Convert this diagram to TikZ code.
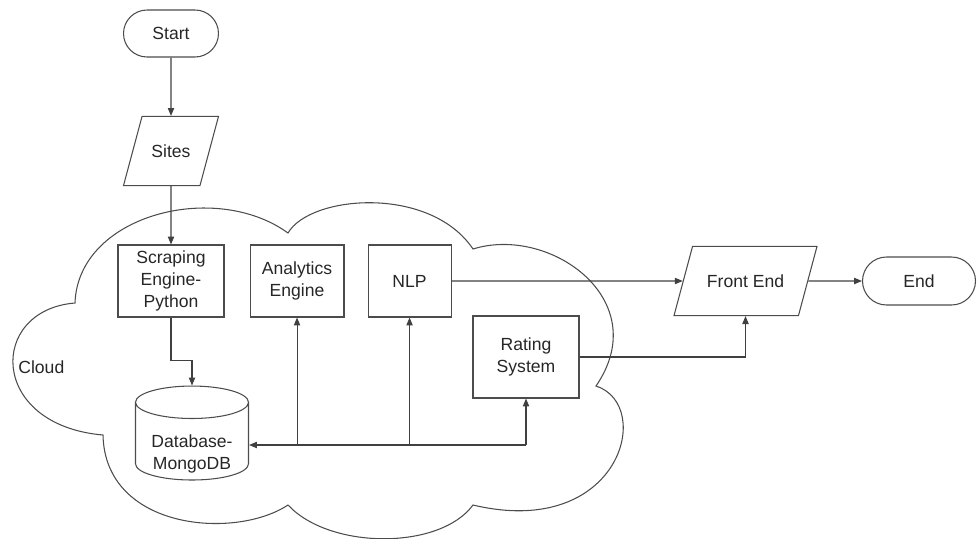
\documentclass[tikz,border=0pt]{standalone}
\usepackage{fontspec}
\setmainfont{Liberation Sans}
\usetikzlibrary{shapes,positioning,arrows.meta}
\usetikzlibrary{calc}

\begin{document}
\begin{tikzpicture}[
    x=0.02cm, y=-0.02cm,
    line width=0.6pt,
    every node/.style={font=\fontsize{10}{12.3}\selectfont, text=black!85},
    terminal/.style={rectangle, rounded corners=0.47cm, draw=black!70, minimum width=1.9cm, minimum height=0.94cm},
    io/.style={trapezium, trapezium left angle=75, trapezium right angle=105, trapezium stretches body=true, draw=black!70, inner ysep=16pt},
    process/.style={rectangle, draw=black!70, minimum height=1.44cm, align=center},
    store/.style={cylinder, shape border rotate=90, aspect=0.35, draw=black!70, minimum width=2.26cm, minimum height=1.88cm},
    arr/.style={draw=black!75, -{Triangle[length=4.5pt,width=3.6pt]}}
]
    \useasboundingbox (0,0) rectangle (977,538);

    % cloud outline
    \draw[draw=black!70] (75,303)
        .. controls (78,215) and (215,180) .. (288,233)
        .. controls (310,195) and (430,185) .. (473,249)
        .. controls (550,225) and (655,300) .. (596,386)
        .. controls (655,405) and (620,540) .. (473,505)
        .. controls (440,550) and (330,550) .. (288,505)
        .. controls (235,540) and (105,530) .. (103,435)
        .. controls (-12,425) and (-12,310) .. cycle;
    \node[anchor=west] (cloudlabel) at (12,367) {Cloud};

    \node[terminal] (start) at (171,33.5) {Start};
    \node[io, minimum width=1.9cm] (sites) at (171,151) {Sites};
    \node[process, minimum width=2.12cm] (scraping) at (171,281) {Scraping\\Engine-\\Python};
    \node[process, minimum width=1.88cm, right=0.5cm of scraping] (analytics) {Analytics\\Engine};
    \node[process, minimum width=1.66cm, right=0.46cm of analytics] (nlp) {NLP};
    \node[process, minimum width=2.12cm, minimum height=1.64cm] (rating) at (526,357) {Rating\\System};
    % text sits a little below the middle of the drum
    \node[store] (db) at (192,445) {\raisebox{-7.6pt}[0pt][0pt]{\begin{tabular}{@{}c@{}}Database-\\MongoDB\end{tabular}}};
    \node[io, minimum width=2.86cm] (front) at (745.5,281) {Front End};
    \node[terminal, minimum width=2.26cm, minimum height=0.96cm, rounded corners=0.48cm] (end) at (919,281) {End};

    \draw[arr] (start) -- (sites);
    \draw[arr] (sites) -- (scraping);
    \draw[arr] (scraping.south) -- ++(0,43) -| (db.north);
    \coordinate (hub) at (db.east -| rating.south);
    \draw[arr] (hub) -- (db.east);
    \draw[arr] (hub) -- (rating.south);
    \draw[arr] (db.east -| analytics.south) -- (analytics.south);
    \draw[arr] (db.east -| nlp.south) -- (nlp.south);
    \draw[arr] (nlp) -- (front);
    \draw[arr] (rating.east) -| (front.south);
    \draw[arr] (front) -- (end);
\end{tikzpicture}
\end{document}
